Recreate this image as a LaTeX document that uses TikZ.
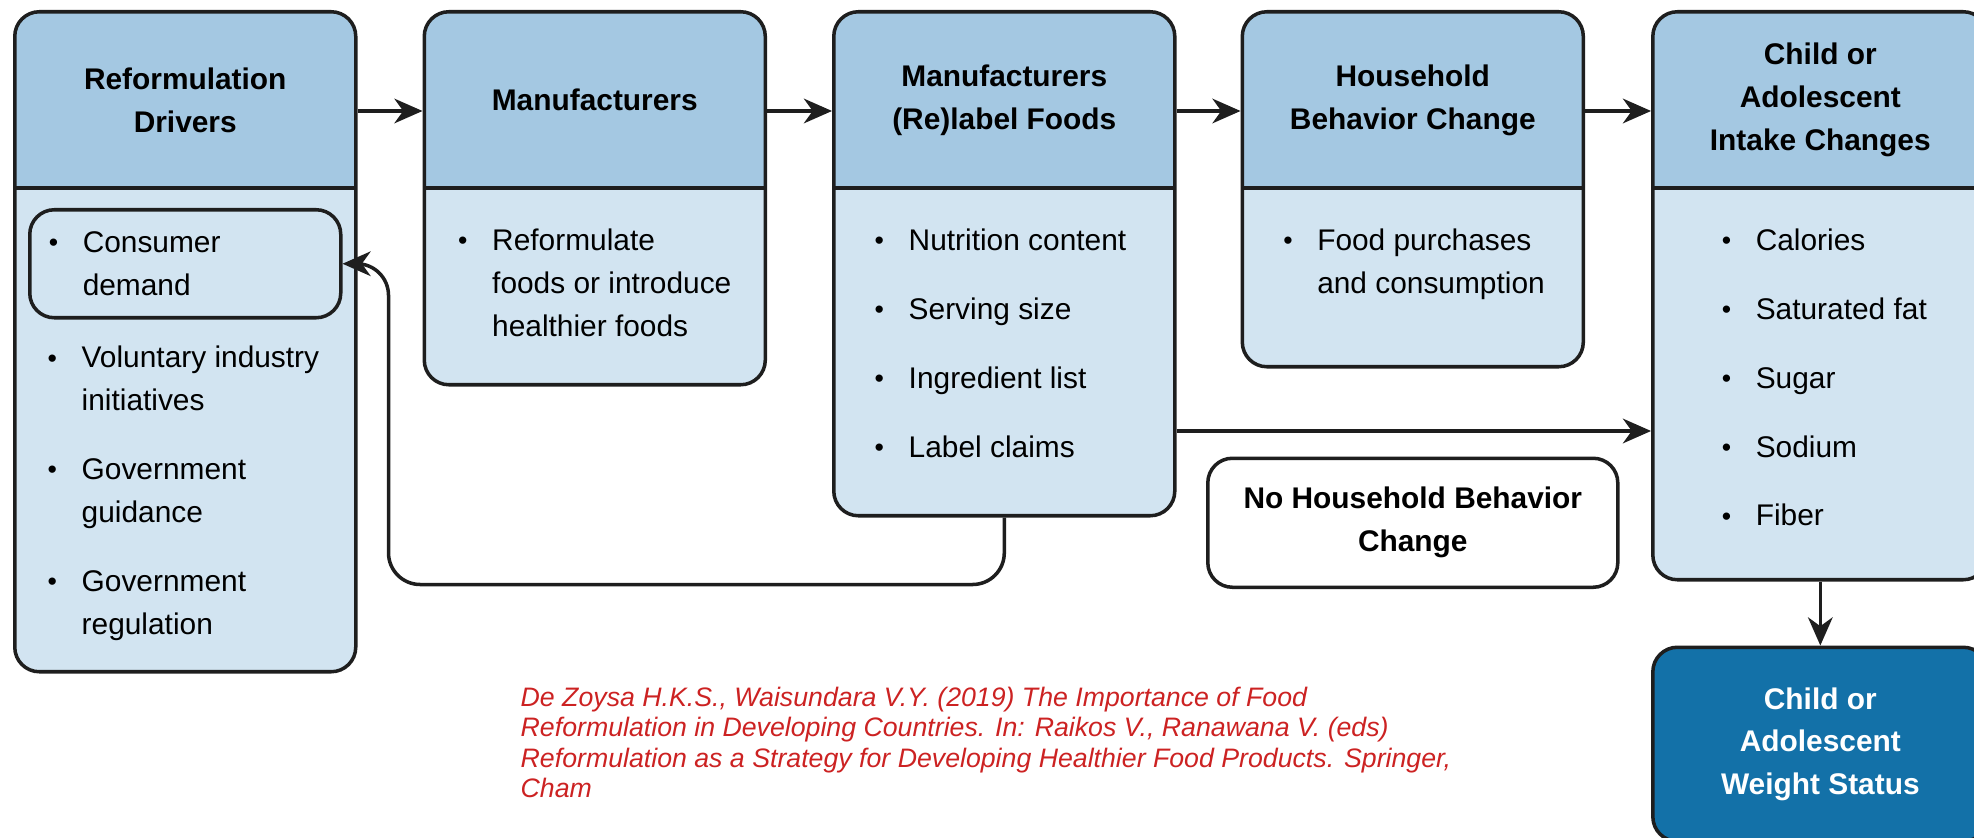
\documentclass[tikz,border=0pt]{standalone}
\usepackage{fontspec}
\setmainfont{Liberation Sans}
\usepackage{tikz}
\usetikzlibrary{arrows.meta, positioning, calc}

\definecolor{headblue}{RGB}{164,200,226}
\definecolor{bodyblue}{RGB}{210,228,241}
\definecolor{deepblue}{RGB}{19,113,168}
\definecolor{edge}{RGB}{30,30,30}
\definecolor{citered}{RGB}{204,34,34}

\newcommand{\bul}{\makebox[0.34cm][l]{\raisebox{0.2pt}{\fontsize{7.6pt}{7.6pt}\selectfont\textbullet}}}
\newcommand{\gap}{\hspace*{0.34cm}}

\begin{document}
\begin{tikzpicture}[
  every node/.style={font=\fontsize{8.5pt}{12.2pt}\selectfont},
  stage/.style={draw=edge, line width=1pt, rounded corners=7pt, fill=bodyblue,
    minimum width=3.41cm, inner sep=0pt,
    path picture={
      \fill[headblue, sharp corners] (path picture bounding box.north west)
        rectangle ([yshift=-1.76cm]path picture bounding box.north east);
      \draw[edge, line width=1pt] ([yshift=-1.76cm]path picture bounding box.north west)
        -- ([yshift=-1.76cm]path picture bounding box.north east);}},
  headtxt/.style={font=\fontsize{8.5pt}{12.2pt}\selectfont\bfseries, align=center, inner sep=0pt},
  listtxt/.style={align=left, inner sep=0pt},
  flow/.style={draw=edge, line width=1pt, -{Stealth[length=8pt, width=7pt, inset=2.5pt]}},
]
\useasboundingbox (0,0) rectangle (19.74,-8.38);

% Stage boxes along the top row
\node (drv) [stage, minimum height=6.60cm, anchor=north west] at (0.13,-0.10) {};
\node (mfr) [stage, minimum height=3.73cm, right=0.65cm of drv.north east, anchor=north west] {};
\node (lbl) [stage, minimum height=5.04cm, right=0.65cm of mfr.north east, anchor=north west] {};
\node (hh) [stage, minimum height=3.55cm, right=0.64cm of lbl.north east, anchor=north west] {};
\node (intk) [stage, minimum width=3.35cm, minimum height=5.68cm, right=0.66cm of hh.north east, anchor=north west] {};

% Headings
\node (drvhead) [headtxt] at ([yshift=-0.90cm]drv.north) {Reformulation\\Drivers};
\node (mfrhead) [headtxt] at ([yshift=-0.90cm]mfr.north) {Manufacturers};
\node (lblhead) [headtxt] at ([yshift=-0.90cm]lbl.north) {Manufacturers\\(Re)label Foods};
\node (hhhead) [headtxt] at ([yshift=-0.90cm]hh.north) {Household\\Behavior Change};
\node (intkhead) [headtxt] at ([yshift=-0.90cm]intk.north) {Child or\\Adolescent\\Intake Changes};

% Bullet lists
\node (cons) [draw=edge, line width=1pt, rounded corners=7pt, minimum width=3.11cm, minimum height=1.08cm,
  align=left, text width=2.73cm, inner xsep=0.19cm, inner ysep=0pt,
  below right=1.98cm and 0.15cm of drv.north west] {\bul Consumer\\ \gap demand};
\node (drvlist) [listtxt, below right=0.26cm and 0.19cm of cons.south west]
  {\bul Voluntary industry\\ \gap initiatives\\[7.4pt]
   \bul Government\\ \gap guidance\\[7.4pt]
   \bul Government\\ \gap regulation};
\node (mfrlist) [listtxt, below right=2.18cm and 0.35cm of mfr.north west]
  {\bul Reformulate\\ \gap foods or introduce\\ \gap healthier foods};
\node (lbllist) [listtxt, below right=2.18cm and 0.42cm of lbl.north west]
  {\bul Nutrition content\\[7.4pt]
   \bul Serving size\\[7.4pt]
   \bul Ingredient list\\[7.4pt]
   \bul Label claims};
\node (hhlist) [listtxt, below right=2.18cm and 0.42cm of hh.north west]
  {\bul Food purchases\\ \gap and consumption};
\node (intklist) [listtxt, below right=2.18cm and 0.70cm of intk.north west]
  {\bul Calories\\[7.4pt]
   \bul Saturated fat\\[7.4pt]
   \bul Sugar\\[7.4pt]
   \bul Sodium\\[7.4pt]
   \bul Fiber};

% Lower boxes
\node (nochg) [below=0.88cm of hh, draw=edge, line width=1pt, rounded corners=7pt, fill=white,
  minimum width=4.10cm, minimum height=1.29cm, align=center,
  font=\fontsize{8.5pt}{12.2pt}\selectfont\bfseries] {No Household Behavior\\Change};
\node (wgt) [below=0.64cm of intk, draw=edge, line width=1pt, rounded corners=7pt, fill=deepblue,
  minimum width=3.35cm, minimum height=1.94cm, align=center, text=white,
  font=\fontsize{8.5pt}{12.2pt}\selectfont\bfseries] {Child or\\Adolescent\\Weight Status};

% Arrows
\draw[flow] ([yshift=-1.01cm]drv.north east) -- ([yshift=-1.01cm]mfr.north west);
\draw[flow] ([yshift=-1.01cm]mfr.north east) -- ([yshift=-1.01cm]lbl.north west);
\draw[flow] ([yshift=-1.01cm]lbl.north east) -- ([yshift=-1.01cm]hh.north west);
\draw[flow] ([yshift=-1.01cm]hh.north east) -- ([yshift=-1.01cm]intk.north west);
\draw[flow] ([yshift=-4.21cm]lbl.north east) -- ([yshift=-4.21cm]intk.north west);
\draw[flow] (intk) -- (wgt);

% Feedback to consumer demand
\draw[flow, rounded corners=9pt] (lbl.south) -- ++(0,-0.67) -| ([xshift=0.46cm]cons.east) -- (cons.east);

% Source
\node (cite) [anchor=north west, align=left, inner sep=0pt, text=citered,
  font=\fontsize{7.6pt}{8.7pt}\selectfont\itshape] at (5.20,-6.86)
  {De Zoysa H.K.S., Waisundara V.Y. (2019) The Importance of Food\\
   Reformulation in Developing Countries. In: Raikos V., Ranawana V. (eds)\\
   Reformulation as a Strategy for Developing Healthier Food Products. Springer,\\
   Cham};
\end{tikzpicture}
\end{document}
